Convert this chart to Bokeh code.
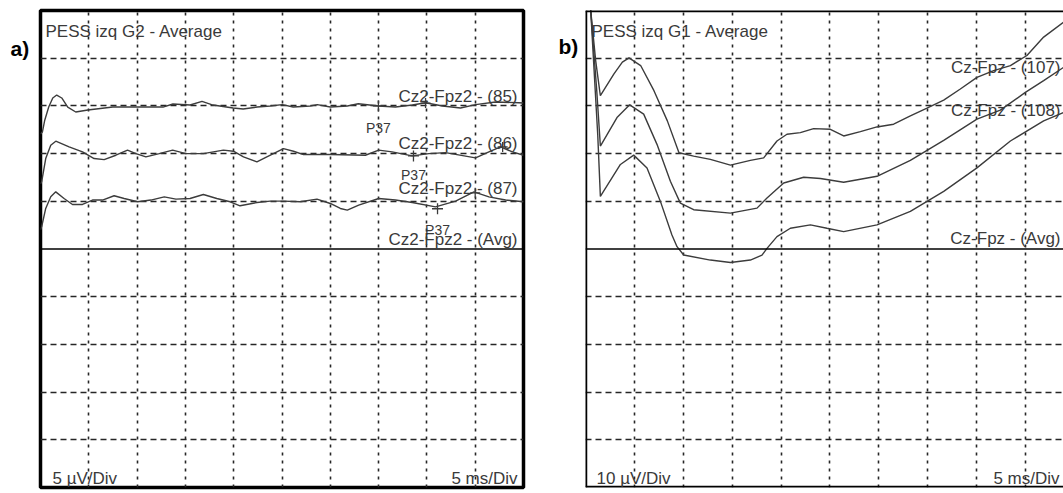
from bokeh.plotting import figure
from bokeh.models import Range1d, Grid, FixedTicker, Span, Label
from bokeh.layouts import row
from bokeh.embed import file_html
from bokeh.resources import INLINE

# ---------------- Panel a : PESS izq G2 (5 uV/Div, 5 ms/Div) ----------------
t_85 = [0.0, 0.2, 0.44, 0.85, 1.27, 1.68, 2.2, 2.82, 3.65, 4.9, 7.49, 9.88, 12.68, 13.71, 15.48,
        16.72, 17.86, 19.94, 20.98, 22.43, 23.78, 25.02, 26.16, 27.93, 28.65, 30.0, 31.76, 32.9,
        34.98, 36.74, 38.5, 39.85, 41.62, 43.48, 45.04, 47.1, 49.5, 50.0]
v_85 = [12.05, 12.27, 13.5, 14.88, 15.83, 16.14, 15.83, 14.88, 14.36, 14.57, 14.88, 14.88, 14.88,
        15.2, 15.09, 15.48, 15.09, 14.78, 14.67, 14.88, 14.99, 15.13, 14.88, 14.99, 15.13, 14.88,
        14.99, 15.23, 14.99, 14.88, 15.09, 15.33, 14.99, 14.78, 15.13, 15.41, 15.33, 15.3]

t_86 = [0.0, 0.12, 0.54, 1.06, 1.58, 2.96, 4.35, 5.55, 6.59, 7.8, 9.01, 9.88, 10.91, 12.29, 13.68,
        15.06, 16.86, 18.93, 19.97, 21.01, 22.4, 23.43, 25.15, 26.19, 27.23, 30.0, 33.63, 35.01,
        36.4, 38.48, 40.2, 41.93, 45.04, 46.42, 47.63, 48.85, 50.0]
v_86 = [6.83, 7.04, 9.48, 10.88, 11.3, 10.7, 10.18, 9.48, 9.37, 9.83, 10.36, 10.0, 9.65, 10.0,
        10.36, 10.0, 10.0, 10.36, 10.25, 9.65, 9.13, 9.65, 10.52, 10.25, 9.9, 9.9, 9.83, 10.36,
        10.18, 9.76, 10.0, 10.1, 9.55, 10.18, 10.7, 10.18, 9.83]

t_87 = [0.0, 0.12, 0.54, 1.06, 1.58, 2.44, 3.31, 4.35, 5.38, 6.42, 7.62, 8.66, 10.05, 11.43, 12.81,
        14.02, 15.48, 16.86, 18.25, 19.63, 20.66, 22.4, 23.78, 25.15, 26.89, 28.62, 30.0, 31.04,
        31.76, 32.94, 35.01, 36.74, 38.48, 40.89, 42.97, 44.87, 46.42, 48.15, 50.0]
v_87 = [2.02, 2.33, 4.25, 5.47, 5.99, 5.29, 4.67, 4.67, 5.13, 5.13, 5.58, 5.29, 4.95, 5.13, 5.47,
        5.23, 5.29, 5.71, 5.29, 4.95, 4.53, 4.87, 5.02, 5.02, 4.95, 5.23, 4.77, 4.25, 4.08, 4.6,
        5.29, 5.13, 4.87, 4.42, 5.02, 5.99, 5.47, 5.13, 4.95]

a_labels = ["Cz2-Fpz2 - (85)", "Cz2-Fpz2 - (86)", "Cz2-Fpz2 - (87)", "Cz2-Fpz2 - (Avg)"]
a_label_level = [15, 10, 5, 0]

# P37 marks (labelled) and second peak marks
p37_t = [34.98, 38.61, 41.1]
p37_v = [15.0, 9.76, 4.22]
mark2_t = [39.86, 47.84, 45.0]
mark2_v = [15.3, 10.7, 5.89]

# ---------------- Panel b : PESS izq G1 (10 uV/Div, 5 ms/Div) ----------------
t_107 = [0.0, 0.53, 1.04, 1.52, 2.91, 3.77, 4.45, 5.64, 7.0, 8.37, 9.56, 11.06, 12.77, 14.82,
         16.86, 18.22, 19.58, 20.6, 21.97, 23.33, 25.04, 26.4, 28.11, 29.8, 31.51, 33.22, 34.92,
         36.63, 38.33, 40.03, 41.74, 43.45, 45.14, 46.85, 48.9]
v_107 = [54.0, 50.1, 39.5, 32.13, 36.7, 39.16, 40.08, 38.46, 33.19, 26.86, 20.17, 19.47, 18.78,
         17.57, 18.57, 19.11, 22.64, 24.05, 24.39, 25.23, 25.1, 23.69, 24.6, 25.59, 26.16, 27.91,
         29.54, 31.22, 33.54, 35.99, 37.41, 38.46, 40.57, 44.43, 47.59]

t_108 = [0.0, 0.53, 1.15, 1.52, 3.22, 4.52, 5.95, 7.31, 8.68, 9.7, 11.06, 14.82, 17.54, 18.56,
         20.27, 22.31, 24.02, 26.4, 29.81, 33.22, 36.63, 40.03, 42.42, 44.98, 46.85, 48.9]
v_108 = [54.0, 50.1, 33.2, 21.58, 27.55, 30.23, 28.27, 21.94, 14.2, 9.62, 8.23, 7.51, 8.57, 10.68,
         13.84, 15.04, 14.77, 13.99, 15.25, 18.57, 22.78, 27.22, 29.11, 32.83, 35.3, 38.1]

t_avg = [0.0, 0.53, 1.25, 1.52, 3.57, 4.93, 6.29, 7.66, 8.84, 9.36, 10.04, 12.77, 14.82, 16.86,
         18.05, 18.56, 19.58, 20.95, 23.0, 24.69, 26.4, 29.81, 33.22, 36.63, 40.03, 43.45, 46.85,
         48.9]
v_avg = [54.0, 50.1, 24.0, 11.03, 17.72, 19.68, 17.0, 9.98, 2.95, 0.49, -1.27, -2.32, -2.83,
         -2.32, -1.27, 0.13, 2.59, 4.35, 5.06, 4.35, 3.65, 5.06, 7.87, 12.09, 17.0, 22.64, 26.86,
         28.61]

b_labels = ["Cz-Fpz - (107)", "Cz-Fpz - (108)", "Cz-Fpz - (Avg)"]
b_label_level = [40, 30, 0]

x_ticks = [5, 10, 15, 20, 25, 30, 35, 40, 45]

FONT = "Liberation Sans"
TXT = "#3a3a3a"
TRACE = "#3c3c3c"
GRIDC = "#262626"
H = 493


def make_panel(width, left, right, xmax, ymax, div):
    p = figure(width=width, height=H, x_range=Range1d(0, xmax), y_range=Range1d(-ymax, ymax),
               x_axis_location=None, y_axis_location=None, toolbar_location=None,
               output_backend="svg", min_border_left=left, min_border_right=right,
               min_border_top=10, min_border_bottom=6,
               background_fill_color="white", border_fill_color="white")
    p.grid.visible = False
    p.add_layout(Grid(dimension=0, ticker=FixedTicker(ticks=x_ticks), grid_line_color=GRIDC,
                      grid_line_dash="3 5", grid_line_width=1.6))
    yt = [div * k for k in range(-4, 5) if k != 0]
    p.add_layout(Grid(dimension=1, ticker=FixedTicker(ticks=yt), grid_line_color=GRIDC,
                      grid_line_dash="6 4", grid_line_width=1.6))
    p.add_layout(Span(location=0, dimension="width", line_color="black", line_width=1.6))
    return p


def tag_panel(width, text, x_px, base_px):
    f = figure(width=width, height=H, x_range=Range1d(0, width), y_range=Range1d(H, 0),
               x_axis_location=None, y_axis_location=None, toolbar_location=None,
               output_backend="svg", min_border_left=0, min_border_right=0,
               min_border_top=0, min_border_bottom=0,
               background_fill_color="white", border_fill_color="white")
    f.grid.visible = False
    f.outline_line_color = None
    f.add_layout(Label(x=x_px, y=base_px, text=text, text_align="left", text_baseline="alphabetic",
                       text_font=FONT, text_font_size="21px", text_font_style="bold",
                       text_color="black"))
    return f


def lab(p, text, x, y, dx=0, dy=0, align="left", size="17px", color=TXT):
    p.add_layout(Label(x=x, y=y, x_offset=dx, y_offset=dy, text=text, text_align=align,
                       text_baseline="alphabetic", text_font=FONT, text_font_size=size,
                       text_color=color))


# ---- "a)" tag ----
tag_a = tag_panel(37, "a)", 10, 39)

# ---- panel a ----
pa = make_panel(490, 3, 4, 50, 25, 5)
pa.outline_line_color = "black"
pa.outline_line_width = 3.5
for t, v in [(t_85, v_85), (t_86, v_86), (t_87, v_87)]:
    pa.line(t, v, line_color=TRACE, line_width=1.4)
pa.scatter(p37_t, p37_v, marker="cross", size=11, line_color=TRACE, line_width=1.3)
pa.scatter(mark2_t, mark2_v, marker="cross", size=10, line_color=TRACE, line_width=1.3)

lab(pa, "PESS izq G2 - Average", 0, 25, dx=5, dy=-21)
for txt, lvl, off in zip(a_labels, a_label_level, [9, 10, 13, 10]):
    lab(pa, txt, 50, lvl, dx=-6, dy=off, align="right")
for t, v, off in zip(p37_t, p37_v, [22, 19, 21]):
    lab(pa, "P37", t, v, dy=-off, align="center", size="14px")
lab(pa, "5 µV/Div", 0, -25, dx=12, dy=9)
lab(pa, "5 ms/Div", 50, -25, dx=-6, dy=9, align="right")

# ---- "b)" tag ----
tag_b = tag_panel(53, "b)", 31, 37)

# ---- panel b (its right side runs to the page edge, as in the original) ----
XMAX_B = 48.88
pb = make_panel(483, 5, 0, XMAX_B, 50, 10)
pb.outline_line_color = None
pb.add_layout(Span(location=0, dimension="height", line_color="black", line_width=3.5))
pb.add_layout(Span(location=50, dimension="width", line_color="black", line_width=3.5))
pb.add_layout(Span(location=-50, dimension="width", line_color="black", line_width=3.5))
for t, v in [(t_107, v_107), (t_108, v_108), (t_avg, v_avg)]:
    pb.line(t, v, line_color=TRACE, line_width=1.4)

lab(pb, "PESS izq G1 - Average", 0, 50, dx=6, dy=-21)
for txt, lvl, off in zip(b_labels, b_label_level, [-9, -5, 11]):
    lab(pb, txt, XMAX_B, lvl, dx=-3, dy=off, align="right")
lab(pb, "10 µV/Div", 0, -50, dx=11, dy=9)
lab(pb, "5 ms/Div", XMAX_B, -50, dx=-4, dy=9, align="right")

layout = row(tag_a, pa, tag_b, pb)
open("out.html", "w").write(file_html(layout, INLINE))
